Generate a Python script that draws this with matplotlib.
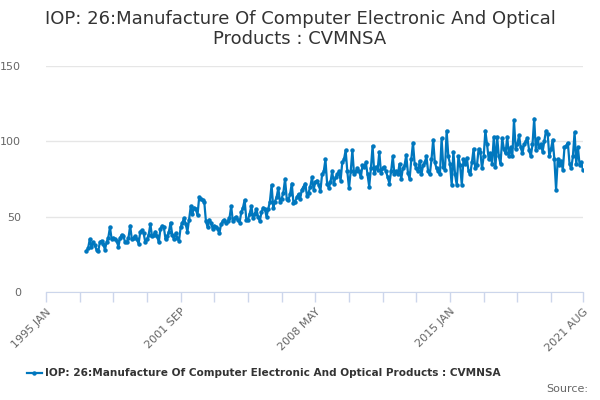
import numpy as np
import matplotlib.pyplot as plt

# monthly values, 1997 JAN .. 2021 AUG
v1997 = [27, 29, 35, 30, 33, 31, 28, 27, 33, 34, 32, 28]
v1998 = [33, 36, 43, 35, 36, 35, 34, 30, 36, 38, 37, 33]
v1999 = [33, 36, 44, 35, 36, 37, 35, 32, 40, 41, 39, 33]
v2000 = [35, 38, 45, 37, 38, 40, 37, 33, 42, 44, 43, 35]
v2001 = [37, 40, 46, 38, 35, 39, 36, 34, 43, 46, 49, 45]
v2002 = [40, 48, 57, 52, 56, 55, 51, 63, 62, 61, 60, 47]
v2003 = [43, 48, 46, 42, 44, 43, 42, 39, 45, 47, 48, 46]
v2004 = [47, 49, 57, 47, 49, 50, 48, 46, 53, 56, 61, 48]
v2005 = [48, 52, 57, 49, 52, 55, 50, 47, 53, 56, 55, 50]
v2006 = [55, 60, 71, 56, 60, 63, 69, 60, 62, 66, 75, 62]
v2007 = [61, 65, 72, 59, 60, 63, 65, 62, 68, 70, 72, 64]
v2008 = [66, 70, 76, 68, 73, 74, 71, 67, 78, 80, 88, 72]
v2009 = [69, 73, 80, 72, 76, 78, 80, 74, 86, 88, 94, 80]
v2010 = [69, 80, 94, 78, 80, 82, 80, 76, 84, 83, 86, 78]
v2011 = [70, 82, 97, 79, 83, 81, 93, 79, 82, 83, 80, 76]
v2012 = [72, 80, 90, 78, 80, 78, 85, 75, 82, 84, 91, 79]
v2013 = [75, 88, 99, 85, 82, 80, 87, 78, 84, 86, 90, 80]
v2014 = [78, 88, 101, 86, 82, 80, 78, 102, 83, 81, 107, 90]
v2015 = [85, 71, 93, 78, 71, 90, 84, 71, 88, 85, 89, 80]
v2016 = [78, 86, 95, 82, 84, 95, 93, 82, 90, 107, 98, 88]
v2017 = [92, 85, 103, 83, 103, 90, 85, 102, 95, 92, 103, 90]
v2018 = [96, 90, 114, 95, 98, 104, 96, 92, 98, 100, 102, 94]
v2019 = [90, 98, 115, 94, 102, 96, 98, 93, 100, 107, 105, 90]
v2020 = [95, 101, 88, 68, 88, 84, 87, 81, 96, 97, 99, 85]
v2021 = [82, 90, 106, 85, 96, 84, 86, 81]

values = (v1997 + v1998 + v1999 + v2000 + v2001 + v2002 + v2003 + v2004 +
          v2005 + v2006 + v2007 + v2008 + v2009 + v2010 + v2011 + v2012 +
          v2013 + v2014 + v2015 + v2016 + v2017 + v2018 + v2019 + v2020 + v2021)

start_month = 24  # months after 1995 JAN
months = np.arange(start_month, start_month + len(values))

tick_pos = list(range(0, 320, 20)) + [319]
label_pos = {0: '1995 JAN', 80: '2001 SEP', 160: '2008 MAY', 240: '2015 JAN', 319: '2021 AUG'}
tick_labels = [label_pos.get(p, '') for p in tick_pos]

title = 'IOP: 26:Manufacture Of Computer Electronic And Optical\nProducts : CVMNSA'
series_name = 'IOP: 26:Manufacture Of Computer Electronic And Optical Products : CVMNSA'

color = '#0077be'

fig = plt.figure(figsize=(6, 4), dpi=100)
ax = fig.add_axes([46/600, 108/400, 537/600, 226/400])

ax.plot(months, values, color=color, lw=1.6, marker='o', ms=2.2, label=series_name)

ax.set_xlim(0, 319)
ax.set_ylim(0, 150)
ax.set_yticks([0, 50, 100, 150])
ax.grid(axis='y', color='#e6e6e6', lw=1)
ax.set_axisbelow(True)

ax.set_xticks(tick_pos)
ax.set_xticklabels(tick_labels, rotation=45, ha='right', rotation_mode='anchor')

for s in ['top', 'right', 'left']:
    ax.spines[s].set_visible(False)
ax.spines['bottom'].set_color('#ccd6eb')
ax.tick_params(axis='x', colors='#ccd6eb', length=7, width=1, labelcolor='#666666', labelsize=8)
ax.tick_params(axis='y', length=0, labelcolor='#666666', labelsize=8, pad=18)

fig.suptitle(title, y=0.975, fontsize=13, color='#333333', linespacing=1.15)

fig.legend(loc='lower center', bbox_to_anchor=(0.44, 0.03), frameon=False,
           prop={'size': 7.6, 'weight': 'bold'}, labelcolor='#333333',
           handlelength=1.4, handletextpad=0.35)
fig.text(0.98, 0.015, 'Source:', ha='right', va='bottom', fontsize=8, color='#666666')

fig.savefig('out.png')
